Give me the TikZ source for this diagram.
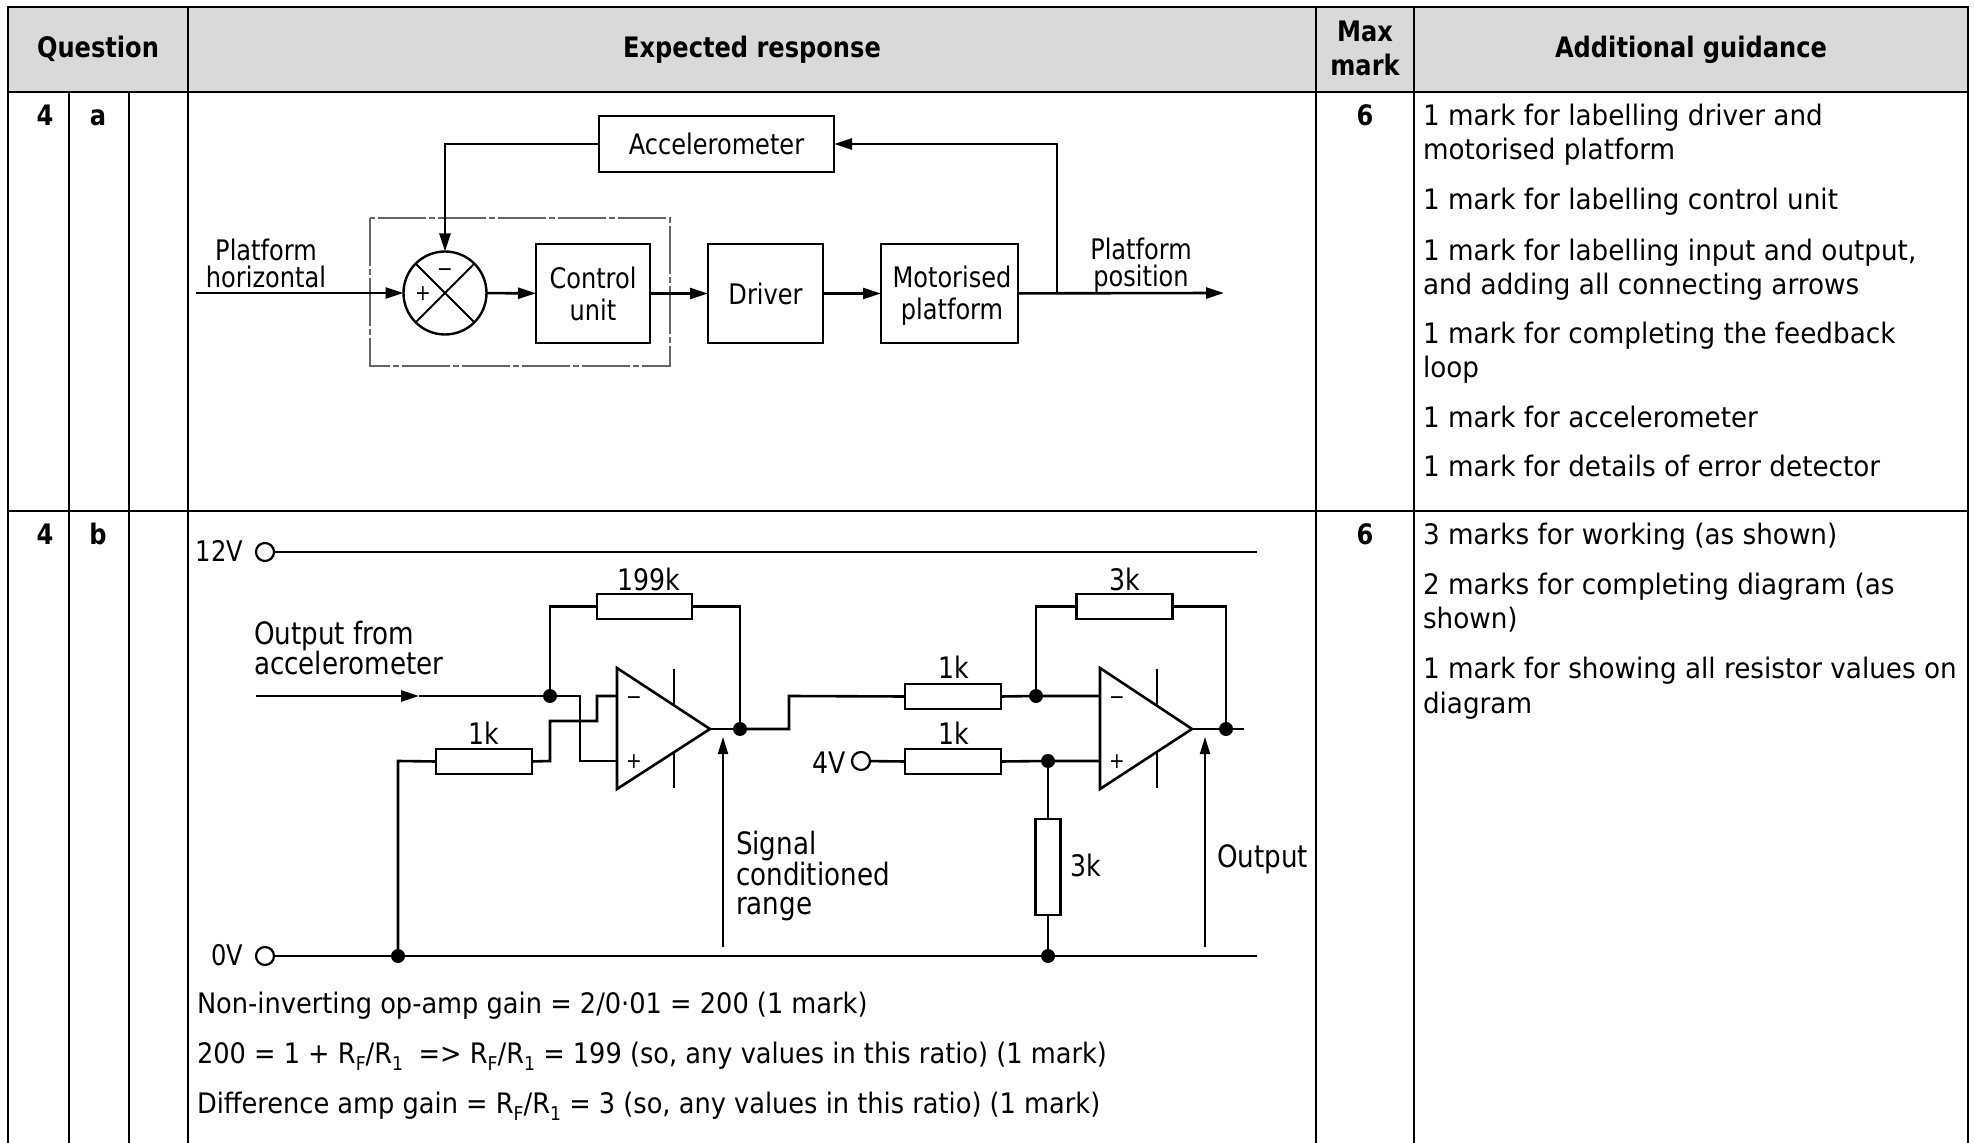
\documentclass[tikz,border=0pt]{standalone}
\usepackage{fontspec}
\usetikzlibrary{arrows.meta,positioning}
\setmainfont[FakeStretch=0.93]{DejaVu Sans}
\newfontfamily\hfnt[FakeStretch=0.855]{DejaVu Sans Bold}
\newfontfamily\dfnt[FakeStretch=0.85]{DejaVu Sans}
\newfontfamily\wfnt[FakeStretch=0.91]{DejaVu Sans}
\newcommand{\lowsub}[1]{\raisebox{-0.25em}{\fontsize{9.5}{10}\selectfont #1}}
\definecolor{hdr}{HTML}{D9D9D9}
\tikzset{
  tline/.style={line width=1.1pt,black},
  wire/.style={line width=1.3pt,black,line join=miter},
  thinw/.style={line width=1pt,black},
  body/.style={anchor=base west,inner sep=0pt,outer sep=0pt,font=\fontsize{14.1}{17}\selectfont},
  work/.style={body,font=\wfnt\fontsize{14.1}{17}\selectfont},
  head/.style={anchor=base,inner sep=0pt,font=\hfnt\fontsize{14.1}{17}\selectfont,align=center},
  lbl/.style={inner sep=0pt,outer sep=0pt,align=center,font=\dfnt\fontsize{14.16}{13.5}\selectfont},
  clbl/.style={lbl,font=\dfnt\fontsize{14.8}{15}\selectfont},
  rail/.style={lbl,font=\dfnt\fontsize{14.2}{15}\selectfont},
  lbll/.style={lbl,align=left,anchor=west},
  box/.style={draw,line width=1.3pt,inner sep=0pt,outer sep=0pt,align=center,font=\dfnt\fontsize{14.16}{16}\selectfont},
  res/.style={draw,line width=1.3pt,inner sep=0pt,outer sep=0pt,fill=white},
  term/.style={draw,circle,line width=1.1pt,minimum size=9pt,inner sep=0pt,outer sep=0pt},
  dot/.style={fill,circle,minimum size=7pt,inner sep=0pt,outer sep=0pt},
  arr/.style={-{Triangle[length=9pt,width=5.5pt]}},
  arrthin/.style={-{Triangle[length=8.5pt,width=5pt]}},
  sign/.style={inner sep=0pt,outer sep=0pt,font=\dfnt\fontsize{11}{11}\selectfont},
}
\begin{document}
\begin{tikzpicture}[x=0.5pt,y=-0.5pt]
\useasboundingbox (0,0) rectangle (1975,1143);
% table
\fill[hdr] (8,7) rectangle (1968,92);
\draw[tline] (8,1143) -- (8,7) -- (1968,7) -- (1968,1143);
\draw[tline] (8,92) -- (1968,92);
\draw[tline] (8,511) -- (1968,511);
\draw[tline] (69,92) -- (69,1143);
\draw[tline] (129,92) -- (129,1143);
\draw[tline] (188,7) -- (188,1143);
\draw[tline] (1316,7) -- (1316,1143);
\draw[tline] (1414,7) -- (1414,1143);
\node[head] (hq) at (98,58) {Question};
\node[head] (he) at (752,58) {Expected response};
\node[head] (hm1) at (1365,42) {Max};
\node[head] (hm2) at (1365,76) {mark};
\node[head] (hg) at (1691,58) {Additional guidance};
\node[head] (qa) at (45,126) {4};
\node[head] (pa) at (98,126) {a};
\node[head] (ma) at (1365,126) {6};
\node[head] (qb) at (45,545) {4};
\node[head] (pb) at (98,545) {b};
\node[head] (mb) at (1365,545) {6};
% guidance
\node[body] (g1) at (1423,126) {1 mark for labelling driver and};
\node[body] (g2) at (1423,160) {motorised platform};
\node[body] (g3) at (1423,210) {1 mark for labelling control unit};
\node[body] (g4) at (1423,261) {1 mark for labelling input and output,};
\node[body] (g5) at (1423,295) {and adding all connecting arrows};
\node[body] (g6) at (1423,344) {1 mark for completing the feedback};
\node[body] (g7) at (1423,378) {loop};
\node[body] (g8) at (1423,428) {1 mark for accelerometer};
\node[body] (g9) at (1423,477) {1 mark for details of error detector};
\node[body] (g10) at (1423,545) {3 marks for working (as shown)};
\node[body] (g11) at (1423,595) {2 marks for completing diagram (as};
\node[body] (g12) at (1423,629) {shown)};
\node[body] (g13) at (1423,679) {1 mark for showing all resistor values on};
\node[body] (g14) at (1423,713) {diagram};
% working
\node[work] (w1) at (197,1013) {Non-inverting op-amp gain = 2/0·01 = 200 (1 mark)};
\node[work] (w2) at (197,1063) {200 = 1 + R\lowsub{F}/R\lowsub{1}\hspace{0.55em}=> R\lowsub{F}/R\lowsub{1} = 199 (so, any values in this ratio) (1 mark)};
\node[work] (w3) at (197,1113) {Difference amp gain = R\lowsub{F}/R\lowsub{1} = 3 (so, any values in this ratio) (1 mark)};
% block diagram
\draw[line width=0.7pt,black!60,dash pattern=on 24pt off 1.5pt on 3pt off 1.5pt] (370,218) rectangle (670,366);
\node[box,minimum width=117.5pt,minimum height=28pt] (acc) at (716.5,144) {Accelerometer};
\node[draw,circle,line width=1.2pt,minimum size=41.5pt,inner sep=0pt,outer sep=0pt] (sum) at (445,293) {};
\draw[line width=1pt] (sum.north west) -- (sum.south east) (sum.north east) -- (sum.south west);
\node[sign] (sp) at (423,294) {+};
\node[sign] (sm) at (445,273) {−};
\node[box,minimum width=57pt,minimum height=49.5pt] (ctl) at (593,293.5) {Control\\unit};
\node[box,minimum width=57.5pt,minimum height=49.5pt] (drv) at (765.5,293.5) {Driver};
\node[box,minimum width=68.5pt,minimum height=49.5pt] (mot) at (949.5,293.5) {};
\node[lbl,font=\dfnt\fontsize{14.16}{16}\selectfont] (lmot) at (952,296) {Motorised\\platform};
\coordinate (inA) at (196,293);
\coordinate (outA) at (1224,293);
\coordinate (tap) at (1057,293);
\draw[wire,arr] (inA) -- (sum);
\draw[wire,arr] (sum) -- (ctl);
\draw[wire,arr] (ctl) -- (drv);
\draw[wire,arr] (drv) -- (mot);
\draw[wire,arr] (mot) -- (outA);
\draw[wire,arr] (tap) |- (acc);
\draw[wire,arr] (acc) -| (sum);
\node[lbl] (lph) at (266,263) {Platform\\horizontal};
\node[lbl] (lpp) at (1141,265) {Platform\\position};
% circuit
\node[term] (t12) at (265,552) {};
\coordinate (e12) at (1257,552);
\draw[wire] (t12) -- (e12);
\node[term] (t0) at (265,956) {};
\coordinate (e0) at (1257,956);
\draw[wire] (t0) -- (e0);
\node[rail,anchor=east] (l12) at (243,551) {12V};
\node[rail,anchor=east] (l0) at (243,955) {0V};
% amp 1
\coordinate (a1t) at (617,668);
\coordinate (a1b) at (617,789);
\coordinate (a1o) at (710,729);
\coordinate (a1m) at (617,696);
\coordinate (a1p) at (617,761);
\draw[wire,line join=miter] (a1t) -- (a1o) -- (a1b) -- cycle;
\draw[thinw] (674,669) -- (674,705) (674,753) -- (674,788);
\node[sign] (a1ms) at (634,701) {−};
\node[sign] (a1ps) at (634,762) {+};
\node[res,minimum width=47.5pt,minimum height=12.5pt] (r199) at (644.5,606.5) {};
\node[res,minimum width=48pt,minimum height=12.5pt] (r1a) at (484,761.5) {};
\node[dot] (j1) at (550,696) {};
\node[dot] (j2) at (740,729) {};
\node[dot] (j0a) at (398,956) {};
\coordinate (inB) at (256,696);
\coordinate (inBm) at (419,696);
\draw[wire,arr] (inB) -- (inBm);
\draw[wire] (inBm) -- (j1) -- (580,696) -- (580,761) -- (a1p);
\draw[wire] (a1m) -- (597,696) -- (597,721) -- (550,721) -- (550,761) -- (r1a.east);
\draw[wire] (r1a.west) -- (398,761) -- (j0a);
\draw[wire] (j1) |- (r199.west);
\draw[wire] (r199.east) -| (j2);
\draw[wire] (a1o) -- (j2);
\node[clbl] (l199) at (649,579) {199k};
\node[clbl] (l1a) at (484,733) {1k};
% amp 2
\coordinate (a2t) at (1100,668);
\coordinate (a2b) at (1100,789);
\coordinate (a2o) at (1192,729);
\coordinate (a2m) at (1100,696);
\coordinate (a2p) at (1100,761);
\draw[wire] (a2t) -- (a2o) -- (a2b) -- cycle;
\draw[thinw] (1157,669) -- (1157,706) (1157,752) -- (1157,788);
\node[sign] (a2ms) at (1117,701) {−};
\node[sign] (a2ps) at (1117,762) {+};
\node[res,minimum width=48pt,minimum height=12.5pt] (r1b) at (953,696.5) {};
\node[res,minimum width=48pt,minimum height=12.5pt] (r1c) at (953,761.5) {};
\node[res,minimum width=48pt,minimum height=12.5pt] (r3a) at (1124.5,606.5) {};
\node[res,minimum width=12.5pt,minimum height=48pt] (r3b) at (1048,867) {};
\node[dot] (j3) at (1036,696) {};
\node[dot] (j4) at (1226,729) {};
\node[dot] (j5) at (1048,761) {};
\node[dot] (j0b) at (1048,956) {};
\node[term] (t4) at (861,761) {};
\coordinate (e2) at (1244,729);
\draw[wire] (j2) -- (789,729) -- (789,696) -- (r1b.west);
\draw[wire] (r1b.east) -- (j3) -- (a2m);
\draw[wire] (t4) -- (r1c.west);
\draw[wire] (r1c.east) -- (j5) -- (a2p);
\draw[wire] (j5) -- (r3b.north);
\draw[wire] (r3b.south) -- (j0b);
\draw[wire] (j3) |- (r3a.west);
\draw[wire] (r3a.east) -| (j4);
\draw[wire] (a2o) -- (e2);
\node[clbl] (l3a) at (1125,579) {3k};
\node[clbl] (l1b) at (954,667) {1k};
\node[clbl] (l1c) at (954,733) {1k};
\node[clbl] (l4) at (829,763) {4V};
\node[clbl,anchor=west] (l3b) at (1070,865) {3k};
% measurement arrows
\coordinate (s1f) at (723,947);
\coordinate (s1t) at (723,737);
\coordinate (s2f) at (1205,947);
\coordinate (s2t) at (1205,737);
\draw[thinw,arrthin] (s1f) -- (s1t);
\draw[thinw,arrthin] (s2f) -- (s2t);
\node[lbl,anchor=west,font=\dfnt\fontsize{15.4}{15}\selectfont] (lout) at (1217,859) {Output};
\node[lbll,font=\dfnt\fontsize{15.4}{14.5}\selectfont] (lsig) at (736,876) {Signal\\conditioned\\range};
\node[lbll,font=\dfnt\fontsize{15.4}{15}\selectfont] (lacc) at (254,648) {Output from\\accelerometer};
\end{tikzpicture}
\end{document}
